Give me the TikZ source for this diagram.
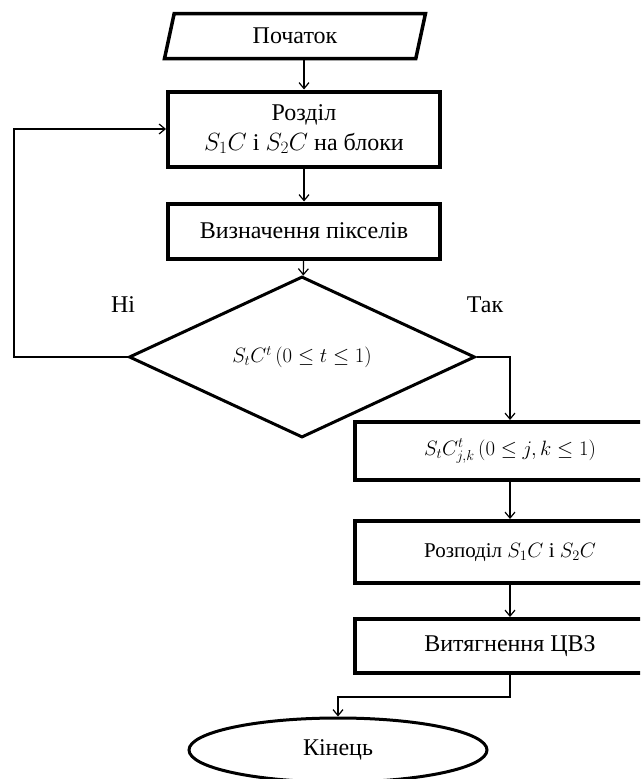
\documentclass[tikz,border=0pt]{standalone}
\usepackage{fontspec}
\setmainfont{Liberation Serif}
\usetikzlibrary{shapes.geometric,arrows.meta}
\begin{document}
\begin{tikzpicture}[x=1pt, y=-1pt, line width=1.2pt, >={Straight Barb[length=6pt,width=10pt]},
block/.style={rectangle,draw,line width=4pt,inner sep=0pt,align=center},
start node/.style={trapezium,draw,line width=3.5pt,trapezium left angle=78,trapezium right angle=102,trapezium stretches=true,inner sep=0pt},
cond node/.style={diamond,draw,line width=3pt,inner sep=0pt},
end node/.style={ellipse,draw,line width=3pt,inner sep=0pt}]
\fill[white] (0,0) rectangle (640,779);
\clip (0,0) rectangle (640,779);
\begin{scope}[every node/.style={font=\fontsize{24}{30}\selectfont}]
\node[start node,minimum width=262pt,minimum height=45pt] (start) at (295,36) {Початок};
\node[block,minimum width=272pt,minimum height=75pt] (b1) at (304,129) {Розділ\\$S_1C$ і $S_2C$ на блоки};
\node[block,minimum width=272pt,minimum height=55pt] (b2) at (304,231) {Визначення пікселів};
\node[cond node,minimum width=346pt,minimum height=127pt,font=\fontsize{22}{26}\selectfont] (cond) at (302,357) {$S_tC^t\,(0\le t\le 1)$};
\node[block,minimum width=311pt,minimum height=58pt,font=\fontsize{22}{26}\selectfont] (b3) at (510,451) {$S_tC^t_{j,k}\,(0\le j,k\le 1)$};
\node[block,minimum width=311pt,minimum height=62pt,font=\fontsize{21}{26}\selectfont] (b4) at (510,552) {Розподіл $S_1C$ і $S_2C$};
\node[block,minimum width=311pt,minimum height=54pt] (b5) at (510,646) {Витягнення ЦВЗ};
\node[end node,minimum width=298pt,minimum height=64pt] (end) at (338,750) {Кінець};
\node (no) at (123,305) {Ні};
\node (yes) at (485,305) {Так};
\coordinate (loop) at (14,0);
\end{scope}
\begin{scope}
\draw[->] (start.south -| b1.north) -- (b1.north);
\draw[->] (b1) -- (b2);
\draw[->] (b2) -- (cond);
\draw[->] (cond.west) -- (cond.west -| loop) |- (b1.west);
\draw[->] (cond.east) -| (b3.north);
\draw[->] (b3) -- (b4);
\draw[->] (b4) -- (b5);
\draw[->] (b5.south) -- ++(0,22) -| (end.north);
\end{scope}
\end{tikzpicture}
\end{document}
